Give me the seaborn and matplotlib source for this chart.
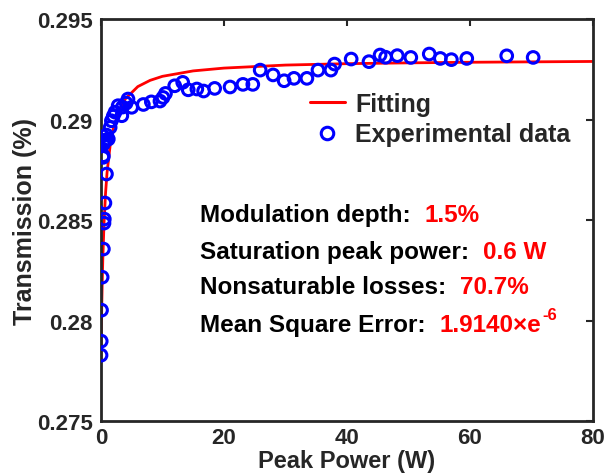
import matplotlib
matplotlib.use('Agg')
import matplotlib.pyplot as plt
import numpy as np
import pandas as pd
import seaborn as sns
from matplotlib.lines import Line2D
from matplotlib.ticker import FixedLocator

peak_power = [0.02, 0.05, 0.10, 0.20, 0.40, 0.50, 0.55, 0.65, 0.90,
              0.35, 0.38, 0.40, 0.50, 0.65, 0.80, 0.90, 1.2,
              1.5, 1.7, 2.0, 2.3, 2.8, 3.4, 3.5, 4.1, 4.4, 5.0,
              6.9, 8.2, 9.6, 10.1, 10.5, 12.0, 13.3, 14.2, 15.6, 16.7,
              18.5, 21.0, 23.1, 24.7, 25.9, 28.0, 29.8, 31.4, 33.5, 35.3,
              37.4, 38.0, 40.7, 43.6, 45.4, 46.3, 48.2, 50.4, 53.4, 55.2,
              57.0, 59.5, 66.0, 70.3]
transmission = [0.27828, 0.27898, 0.28052, 0.28216, 0.28356, 0.28485, 0.28505, 0.28585, 0.28729,
                0.28812, 0.28820, 0.28878, 0.28888, 0.28895, 0.28898, 0.28923, 0.28903,
                0.28961, 0.28994, 0.29017, 0.29037, 0.29069, 0.29019, 0.29062, 0.29082, 0.29102, 0.29061,
                0.29075, 0.29088, 0.29092, 0.29110, 0.29130, 0.29168, 0.29185, 0.29148, 0.29152, 0.29142,
                0.29155, 0.29162, 0.29175, 0.29175, 0.29246, 0.29222, 0.29193, 0.29205, 0.29205, 0.29246,
                0.29246, 0.29276, 0.29301, 0.29288, 0.29321, 0.29310, 0.29318, 0.29309, 0.29326, 0.29304,
                0.29298, 0.29304, 0.29317, 0.29309]

# Fitted saturable absorption curve (sampled)
fit_power = [0, 0.05, 0.1, 0.2, 0.3, 0.5, 0.75, 1, 1.5, 2, 3, 4, 6, 8, 10,
             15, 20, 30, 40, 50, 60, 70, 80]
fit_trans = [0.27800, 0.27915, 0.28014, 0.28175, 0.28300, 0.28482, 0.28633, 0.28738,
             0.28871, 0.28954, 0.29050, 0.29104, 0.29164, 0.29195, 0.29215, 0.29242,
             0.29256, 0.29271, 0.29278, 0.29282, 0.29285, 0.29287, 0.29289]

y_ticks = [0.275, 0.28, 0.285, 0.29, 0.295]
y_tick_labels = ['0.275', '0.28', '0.285', '0.29', '0.295']
x_ticks = [0, 20, 40, 60, 80]

fit_params = [('Modulation depth:', '1.5%'),
              ('Saturation peak power:', '0.6 W'),
              ('Nonsaturable losses:', '70.7%'),
              ('Mean Square Error:', '1.9140\u00d7e')]

sns.set_style('white')
plt.rcParams['font.family'] = ['Liberation Sans', 'DejaVu Sans']
plt.rcParams['font.weight'] = 'bold'

fig, ax = plt.subplots(figsize=(6.08, 4.77), dpi=100)
fig.subplots_adjust(left=0.166, right=0.975, bottom=0.115, top=0.958)

df_fit = pd.DataFrame({'P': fit_power, 'T': fit_trans})
df_exp = pd.DataFrame({'P': peak_power, 'T': transmission})

sns.lineplot(data=df_fit, x='P', y='T', color='red', linewidth=2.0, ax=ax,
             zorder=2, sort=True)
sns.scatterplot(data=df_exp, x='P', y='T', ax=ax, marker='o', s=70,
                facecolor='none', edgecolor='blue', linewidth=2.2, zorder=3)
for c in ax.collections:
    c.set_facecolor('none')
    c.set_edgecolor('blue')

ax.set_xlim(0, 80)
ax.set_ylim(0.275, 0.295)
ax.xaxis.set_major_locator(FixedLocator(x_ticks))
ax.set_yticks(y_ticks)
ax.set_yticklabels(y_tick_labels)
ax.tick_params(direction='in', length=5, width=1.5, top=True, right=True,
               labelsize=16, colors='#262626', pad=6)
ax.tick_params(axis='x', pad=4)
for lab in ax.get_xticklabels() + ax.get_yticklabels():
    lab.set_fontweight('bold')
for sp in ax.spines.values():
    sp.set_linewidth(2)
    sp.set_color('#262626')
    sp.set_visible(True)

ax.set_xlabel('Peak Power (W)', fontsize=17, fontweight='bold', color='#262626', labelpad=1)
ax.set_ylabel('Transmission (%)', fontsize=18, fontweight='bold', color='#262626', labelpad=0)

handles = [Line2D([], [], color='red', linewidth=2.2),
           Line2D([], [], color='blue', marker='o', linestyle='none', markersize=9,
                  markerfacecolor='none', markeredgewidth=2.2)]
ax.legend(handles, ['Fitting', 'Experimental data'], loc='upper left',
          bbox_to_anchor=(0.425, 0.818), frameon=False,
          handlelength=1.4, handletextpad=0.4, labelspacing=0.25,
          borderpad=0, borderaxespad=0,
          prop={'weight': 'bold', 'size': 18})

y_rows = [0.515, 0.423, 0.336, 0.241]
for (label, value), yr in zip(fit_params, y_rows):
    t = ax.text(0.201, yr, label, transform=ax.transAxes, fontsize=17.5,
                fontweight='bold', color='black', va='center', ha='left')
    v = ax.annotate(value, xy=(1, 0), xycoords=t, xytext=(10, 0),
                    textcoords='offset points', fontsize=17.5, fontweight='bold',
                    color='red', va='bottom', ha='left')
    if label.startswith('Mean'):
        ax.annotate('-6', xy=(1, 0.6), xycoords=v, xytext=(1, 0),
                    textcoords='offset points', fontsize=12, fontweight='bold',
                    color='red', va='bottom', ha='left')

fig.savefig('out.png', dpi=100)
